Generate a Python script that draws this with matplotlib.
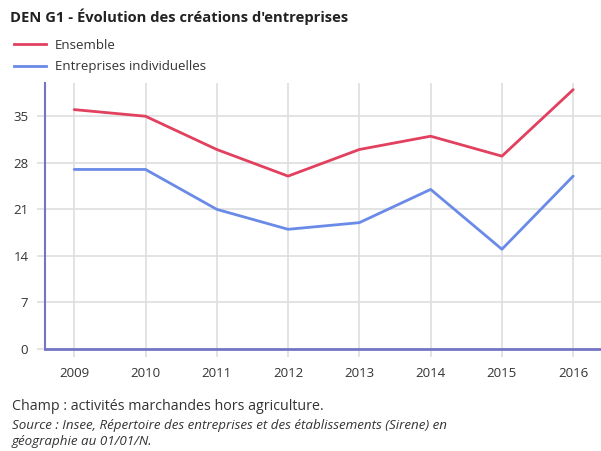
import matplotlib
matplotlib.use("Agg")
import matplotlib.pyplot as plt
from matplotlib.lines import Line2D

plt.rcParams["font.family"] = ["Open Sans", "DejaVu Sans"]

years = [2009, 2010, 2011, 2012, 2013, 2014, 2015, 2016]
ensemble = [36, 35, 30, 26, 30, 32, 29, 39]
individuelles = [27, 27, 21, 18, 19, 24, 15, 26]
y_ticks = [0, 7, 14, 21, 28, 35]

red = "#e2405f"
blue = "#6a8ae8"
axis_color = "#7474c4"
grid_color = "#dedede"
text_color = "#333333"

fig = plt.figure(figsize=(6.01, 4.51), dpi=100)
ax = fig.add_axes([45 / 601, 102 / 451, 556 / 601, 266 / 451])

ax.plot(years, ensemble, color=red, lw=2, solid_capstyle="round", zorder=3)
ax.plot(years, individuelles, color=blue, lw=2, solid_capstyle="round", zorder=3)

ax.set_xlim(2008.59, 2016.39)
ax.set_ylim(0, 40)
ax.set_xticks(years)
ax.set_yticks(y_ticks)
ax.set_xticklabels([str(y) for y in years], fontsize=9.5, color=text_color)
ax.set_yticklabels([str(v) for v in y_ticks], fontsize=9.5, color=text_color)
ax.grid(True, color=grid_color, lw=1.2, zorder=0)
ax.tick_params(axis="x", length=6, width=1.2, color=grid_color, pad=7)
ax.tick_params(axis="y", length=6, width=1.2, color=grid_color, pad=6)

for side in ["top", "right"]:
    ax.spines[side].set_visible(False)
ax.spines["left"].set_color(axis_color)
ax.spines["left"].set_linewidth(1.5)
ax.spines["bottom"].set_color(axis_color)
ax.spines["bottom"].set_linewidth(2)
ax.spines["left"].set_zorder(4)
ax.spines["bottom"].set_zorder(4)

fig.text(10 / 601, 1 - 17 / 451, "DEN G1 - Évolution des créations d'entreprises",
         fontsize=10.6, fontweight="bold", color="#222222", va="center", ha="left")

handles = [Line2D([], [], color=red, lw=2), Line2D([], [], color=blue, lw=2)]
fig.legend(handles, ["Ensemble", "Entreprises individuelles"], loc="upper left",
           bbox_to_anchor=(2 / 601, 1 - 27 / 451), frameon=False, fontsize=9.5,
           handlelength=2.4, handletextpad=0.7, labelspacing=0.65, labelcolor=text_color)

fig.text(12 / 601, 1 - 407 / 451, "Champ : activités marchandes hors agriculture.",
         fontsize=10.3, color=text_color, va="center", ha="left")
fig.text(12 / 601, 1 - 425 / 451,
         "Source : Insee, Répertoire des entreprises et des établissements (Sirene) en",
         fontsize=9.6, style="italic", color=text_color, va="center", ha="left")
fig.text(12 / 601, 1 - 442 / 451, "géographie au 01/01/N.",
         fontsize=9.6, style="italic", color=text_color, va="center", ha="left")

fig.savefig("out.png", dpi=100)
